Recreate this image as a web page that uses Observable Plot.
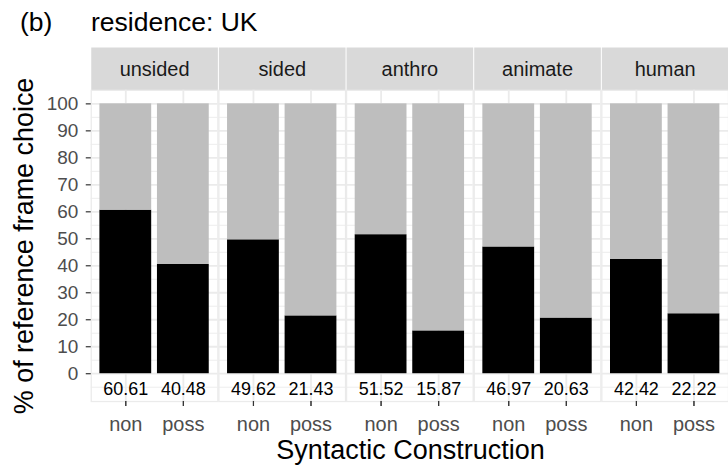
<!DOCTYPE html>
<html>
<head>
<meta charset="utf-8">
<script src="https://cdn.jsdelivr.net/npm/d3@7"></script>
<script src="https://cdn.jsdelivr.net/npm/@observablehq/plot@0.6"></script>
<style>
  html, body { margin: 0; padding: 0; background: #fff; overflow: hidden; }
  body { width: 728px; height: 466px; font-family: "Liberation Sans", Arial, sans-serif; }
  #head { position: relative; height: 44px; }
  #head span { position: absolute; top: 7px; font-size: 26.5px; line-height: 30px; color: #000; white-space: nowrap; }
  #foot { height: 30px; width: 639px; padding-left: 91px; text-align: center; font-size: 27px; line-height: 30px; color: #000; white-space: nowrap; }
  #chart svg { display: block; }
</style>
</head>
<body>
<div id="head"><span style="left:20px">(b)</span><span style="left:91px">residence: UK</span></div>
<div id="chart"></div>
<div id="foot">Syntactic Construction</div>
<script>
// Share (%) of each reference frame choice by noun type and construction
const categories = ["unsided", "sided", "anthro", "animate", "human"];
const constructions = ["non", "poss"];
const nonValues = [60.61, 49.62, 51.52, 46.97, 42.42];
const possValues = [40.48, 21.43, 15.87, 20.63, 22.22];
const yTicks = [0, 10, 20, 30, 40, 50, 60, 70, 80, 90, 100];

const fmt = d3.format(".2f");

// One row per bar: the black part is the value, the grey part the remaining share
const table = categories.flatMap((cat, i) => [
  {cat, con: "non", value: nonValues[i]},
  {cat, con: "poss", value: possValues[i]}
]);
const stacked = table.flatMap(d => [
  {cat: d.cat, con: d.con, part: "chosen", share: d.value},
  {cat: d.cat, con: d.con, part: "other", share: 100 - d.value}
]);
const minorTicks = [-5, ...yTicks.slice(1).map(t => t - 5)];

const panelHeight = 312;
const stripHeight = 43;
const firstPanel = () => categories[0];

const chart = Plot.plot({
  width: 730,
  height: 392,
  marginTop: 46,
  marginBottom: 34,
  marginLeft: 91,
  marginRight: 0,
  style: {fontFamily: "'Liberation Sans', Arial, sans-serif", background: "#fff", overflow: "visible"},
  fx: {domain: categories, paddingInner: 0.008, paddingOuter: 0, axis: null, round: false},
  x: {domain: constructions, paddingInner: 0.1, paddingOuter: 0.15, round: false},
  y: {domain: [-10.3, 105]},
  color: {domain: ["chosen", "other"], range: ["#000000", "#BEBEBE"]},
  marks: [
    // facet strips
    Plot.frame({fill: "#D9D9D9", insetTop: -stripHeight, insetBottom: panelHeight}),
    Plot.text(categories, {fx: d => d, text: d => d, frameAnchor: "top", dy: -14, lineAnchor: "bottom", fontSize: 20, fill: "#1A1A1A"}),
    // grid
    Plot.ruleY(minorTicks, {stroke: "#EBEBEB", strokeWidth: 0.9}),
    Plot.ruleY(yTicks, {stroke: "#EBEBEB", strokeWidth: 1.8}),
    Plot.ruleX(constructions, {x: d => d, stroke: "#EBEBEB", strokeWidth: 1.8}),
    // bars
    Plot.barY(stacked, {fx: "cat", x: "con", y: "share", fill: "part", inset: 0, order: null}),
    Plot.frame({stroke: "#EBEBEB", strokeWidth: 1.3}),
    // value labels under each bar
    Plot.text(table, {fx: "cat", x: "con", text: d => fmt(d.value), frameAnchor: "bottom", dy: -7, lineAnchor: "bottom", fontSize: 18, fill: "#000"}),
    // y axis: ticks and labels on the first panel only
    Plot.axisY({ticks: yTicks, tickSize: 5, tickFormat: () => "", stroke: "#333333", strokeWidth: 1.2, label: null}),
    Plot.text(yTicks, {fx: firstPanel, y: d => d, text: d => String(d), frameAnchor: "left", textAnchor: "end", dx: -13, fontSize: 19, fill: "#4D4D4D"}),
    // x axis under every panel
    Plot.axisX({tickSize: 5, tickPadding: 10, fontSize: 20, color: "#4D4D4D", label: null}),
    Plot.axisX({tickSize: 5, tickFormat: () => "", stroke: "#333333", strokeWidth: 1.2, label: null}),
    Plot.text(["% of reference frame choice"], {fx: firstPanel, text: d => d, frameAnchor: "left", textAnchor: "middle", rotate: -90, dx: -58, lineAnchor: "bottom", fontSize: 27, fill: "#000"})
  ]
});
document.getElementById("chart").append(chart);
</script>
</body>
</html>
